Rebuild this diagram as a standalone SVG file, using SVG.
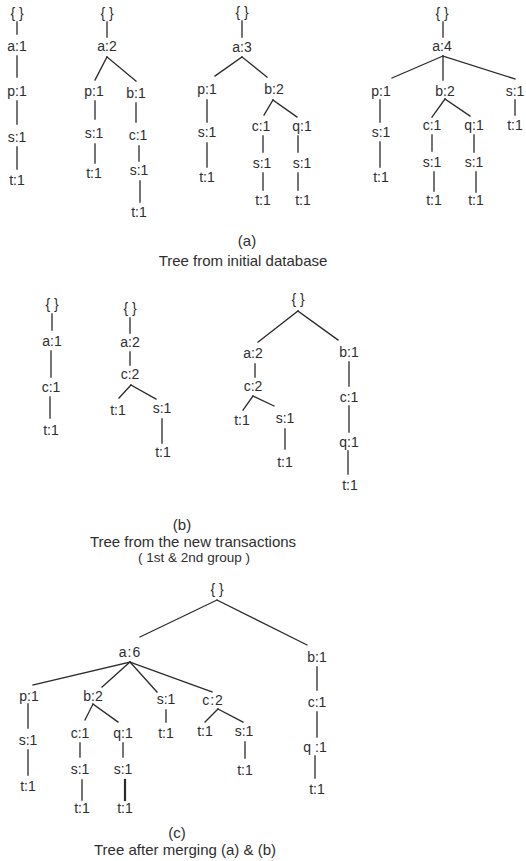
<svg xmlns="http://www.w3.org/2000/svg" width="526" height="861" viewBox="0 0 526 861">
<style>
text{font-family:"Liberation Sans",Arial,sans-serif;fill:#2e2e2e;text-anchor:middle}
.n{font-size:14px}
.cap{font-size:15px}
.sub{font-size:13.5px}
line{stroke:#2a2a2a;stroke-width:1.3;stroke-linecap:square}
</style>
<rect width="526" height="861" fill="#fff"/>
<g id="connectors">
<!-- a1 -->
<line x1="17" y1="22" x2="17" y2="34"/><line x1="17" y1="56" x2="17" y2="77"/><line x1="17" y1="101" x2="17" y2="124"/><line x1="17" y1="147" x2="17" y2="169"/>
<!-- a2 -->
<line x1="107" y1="22" x2="107" y2="37"/><line x1="107" y1="57" x2="95" y2="80"/><line x1="107" y1="57" x2="136" y2="81"/><line x1="95" y1="101" x2="95" y2="119"/><line x1="95" y1="144" x2="95" y2="163"/><line x1="136" y1="103" x2="136" y2="122"/><line x1="139" y1="146" x2="139" y2="161"/><line x1="140" y1="181" x2="140" y2="202"/>
<!-- a3 -->
<line x1="242" y1="21" x2="242" y2="37"/><line x1="242" y1="57" x2="215" y2="76"/><line x1="242" y1="57" x2="267" y2="77"/><line x1="207" y1="100" x2="207" y2="122"/><line x1="207" y1="143" x2="207" y2="167"/><line x1="273" y1="100" x2="264" y2="115"/><line x1="273" y1="100" x2="297" y2="117"/><line x1="263" y1="136" x2="263" y2="152"/><line x1="263" y1="173" x2="263" y2="190"/><line x1="298" y1="136" x2="298" y2="152"/><line x1="298" y1="173" x2="298" y2="190"/>
<!-- a4 -->
<line x1="443" y1="22" x2="443" y2="37"/><line x1="443" y1="56" x2="392" y2="78"/><line x1="443" y1="56" x2="443" y2="80"/><line x1="443" y1="56" x2="515" y2="79"/><line x1="380" y1="100" x2="380" y2="122"/><line x1="380" y1="142" x2="380" y2="167"/><line x1="445" y1="99" x2="432" y2="117"/><line x1="445" y1="99" x2="470" y2="116"/><line x1="432" y1="135" x2="432" y2="151"/><line x1="434" y1="172" x2="434" y2="191"/><line x1="474" y1="135" x2="474" y2="152"/><line x1="476" y1="172" x2="476" y2="192"/><line x1="515" y1="100" x2="515" y2="115"/>
<!-- b1 -->
<line x1="52" y1="314" x2="52" y2="330"/><line x1="51" y1="351" x2="51" y2="377"/><line x1="50" y1="397" x2="50" y2="418"/>
<!-- b2 -->
<line x1="130" y1="318" x2="130" y2="333"/><line x1="130" y1="352" x2="130" y2="365"/><line x1="131" y1="385" x2="119" y2="398"/><line x1="131" y1="385" x2="156" y2="399"/><line x1="162" y1="419" x2="162" y2="443"/>
<!-- b3 -->
<line x1="298" y1="311" x2="258" y2="342"/><line x1="298" y1="311" x2="338" y2="340"/><line x1="255" y1="364" x2="255" y2="377"/><line x1="253" y1="396" x2="243" y2="410"/><line x1="253" y1="396" x2="274" y2="406"/><line x1="285" y1="429" x2="285" y2="449"/><line x1="349" y1="362" x2="349" y2="386"/><line x1="349" y1="406" x2="349" y2="432"/><line x1="348" y1="451" x2="348" y2="474"/>
<!-- c -->
<line x1="217" y1="600" x2="140" y2="637"/><line x1="217" y1="600" x2="307" y2="645"/>
<line x1="130" y1="662" x2="33" y2="685"/><line x1="130" y1="662" x2="102" y2="687"/><line x1="130" y1="662" x2="157" y2="692"/><line x1="130" y1="662" x2="212" y2="692"/>
<line x1="28" y1="704" x2="28" y2="728"/><line x1="28" y1="750" x2="28" y2="775"/>
<line x1="93" y1="704" x2="85" y2="720"/><line x1="93" y1="704" x2="118" y2="722"/>
<line x1="80" y1="743" x2="80" y2="757"/><line x1="82" y1="780" x2="82" y2="800"/><line x1="123" y1="743" x2="123" y2="757"/><line x1="125" y1="780" x2="125" y2="800" style="stroke-width:2.2"/>
<line x1="166" y1="710" x2="166" y2="722"/>
<line x1="218" y1="709" x2="205" y2="722"/><line x1="218" y1="709" x2="243" y2="722"/><line x1="245" y1="742" x2="245" y2="758"/>
<line x1="317" y1="667" x2="317" y2="690"/><line x1="317" y1="712" x2="317" y2="737"/><line x1="315" y1="756" x2="315" y2="778"/>
</g>
<g id="tree-a1" class="n">
<text x="17" y="18">{ }</text><text x="17" y="51">a:1</text><text x="17" y="96">p:1</text><text x="17" y="142">s:1</text><text x="17" y="185">t:1</text>
</g>
<g id="tree-a2" class="n">
<text x="107" y="18">{ }</text><text x="107" y="51">a:2</text><text x="94" y="96">p:1</text><text x="94" y="138">s:1</text><text x="94" y="178">t:1</text><text x="136" y="98">b:1</text><text x="138" y="140">c:1</text><text x="139" y="175">s:1</text><text x="139" y="217">t:1</text>
</g>
<g id="tree-a3" class="n">
<text x="242" y="17">{ }</text><text x="242" y="52">a:3</text><text x="207" y="94">p:1</text><text x="207" y="137">s:1</text><text x="207" y="182">t:1</text><text x="274" y="94">b:2</text><text x="261" y="131">c:1</text><text x="262" y="168">s:1</text><text x="263" y="205">t:1</text><text x="302" y="131">q:1</text><text x="302" y="168">s:1</text><text x="303" y="205">t:1</text>
</g>
<g id="tree-a4" class="n">
<text x="442" y="18">{ }</text><text x="442" y="51">a:4</text><text x="381" y="96">p:1</text><text x="381" y="137">s:1</text><text x="381" y="182">t:1</text><text x="445" y="96">b:2</text><text x="432" y="130">c:1</text><text x="432" y="167">s:1</text><text x="434" y="205">t:1</text><text x="474" y="130">q:1</text><text x="474" y="167">s:1</text><text x="476" y="205">t:1</text><text x="515" y="96">s:1</text><text x="515" y="130">t:1</text>
</g>
<g id="caption-a">
<text class="cap" x="247" y="246">(a)</text><text class="cap" x="243" y="266">Tree from initial database</text>
</g>
<g id="tree-b1" class="n">
<text x="52" y="309">{ }</text><text x="52" y="346">a:1</text><text x="51" y="392">c:1</text><text x="51" y="435">t:1</text>
</g>
<g id="tree-b2" class="n">
<text x="130" y="313">{ }</text><text x="130" y="347">a:2</text><text x="130" y="379">c:2</text><text x="118" y="415">t:1</text><text x="162" y="413">s:1</text><text x="163" y="457">t:1</text>
</g>
<g id="tree-b3" class="n">
<text x="298" y="304">{ }</text><text x="253" y="358">a:2</text><text x="253" y="391">c:2</text><text x="242" y="425">t:1</text><text x="285" y="423">s:1</text><text x="285" y="467">t:1</text><text x="349" y="357">b:1</text><text x="349" y="402">c:1</text><text x="349" y="447">q:1</text><text x="350" y="490">t:1</text>
</g>
<g id="caption-b">
<text class="cap" x="182" y="530">(b)</text><text class="cap" x="193" y="547">Tree from the new transactions</text><text class="sub" x="194" y="562">( 1st &amp; 2nd group )</text>
</g>
<g id="tree-c" class="n">
<text x="217" y="594">{ }</text><text x="130" y="657" style="letter-spacing:1px">a:6</text>
<text x="29" y="701">p:1</text><text x="28" y="745">s:1</text><text x="28" y="791">t:1</text>
<text x="93" y="701">b:2</text><text x="80" y="738">c:1</text><text x="80" y="774">s:1</text><text x="82" y="813">t:1</text><text x="123" y="738">q:1</text><text x="123" y="774">s:1</text><text x="125" y="813">t:1</text>
<text x="166" y="704">s:1</text><text x="166" y="738">t:1</text>
<text x="213" y="705" style="letter-spacing:1px">c:2</text><text x="205" y="736">t:1</text><text x="244" y="736">s:1</text><text x="245" y="775">t:1</text>
<text x="317" y="662">b:1</text><text x="317" y="707">c:1</text><text x="315" y="752">q :1</text><text x="317" y="794">t:1</text>
</g>
<g id="caption-c">
<text class="cap" x="177" y="838">(c)</text><text class="cap" x="185" y="855">Tree after merging (a) &amp; (b)</text>
</g>
</svg>
